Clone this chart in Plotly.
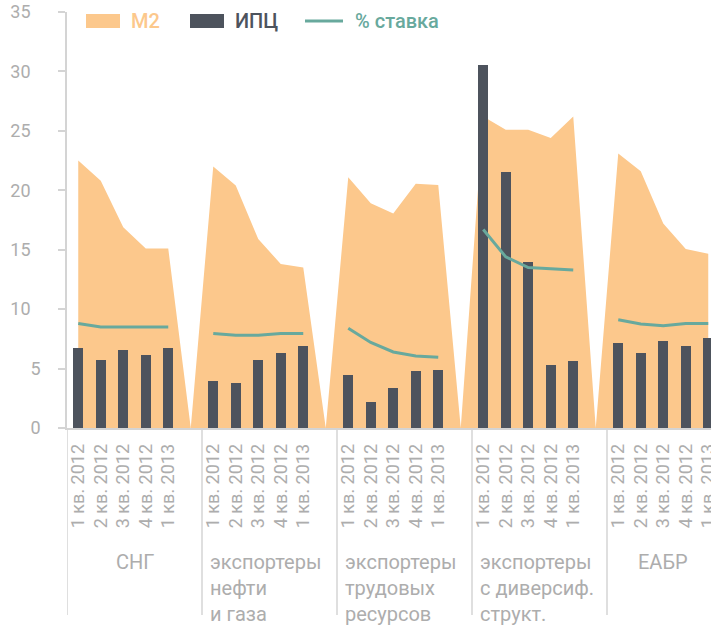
import plotly.graph_objects as go

# ---------------- data ----------------
groups = ["СНГ", "экспортеры<br>нефти<br>и газа", "экспортеры<br>трудовых<br>ресурсов",
          "экспортеры<br>с диверсиф.<br>структ.", "ЕАБР"]
quarters = ["1 кв. 2012", "2 кв. 2012", "3 кв. 2012", "4 кв. 2012", "1 кв. 2013"]

m2_cis = [22.5, 20.8, 16.9, 15.1, 15.1]
m2_oil = [22.0, 20.4, 15.9, 13.8, 13.5]
m2_labor = [21.1, 18.9, 18.05, 20.55, 20.45]
m2_div = [26.2, 25.1, 25.1, 24.4, 26.2]
m2_eabr = [23.1, 21.6, 17.2, 15.05, 14.65]

cpi_cis = [6.75, 5.75, 6.55, 6.15, 6.75]
cpi_oil = [3.95, 3.8, 5.75, 6.3, 6.9]
cpi_labor = [4.45, 2.15, 3.35, 4.8, 4.85]
cpi_div = [30.5, 21.55, 14.0, 5.3, 5.65]
cpi_eabr = [7.15, 6.3, 7.35, 6.9, 7.6]

rate_cis = [8.8, 8.5, 8.5, 8.5, 8.5]
rate_oil = [7.95, 7.8, 7.8, 7.95, 7.95]
rate_labor = [8.4, 7.2, 6.4, 6.05, 5.95]
rate_div = [16.7, 14.4, 13.5, 13.4, 13.3]
rate_eabr = [9.1, 8.75, 8.6, 8.8, 8.8]

yticks = [0, 5, 10, 15, 20, 25, 30, 35]

m2_groups = [m2_cis, m2_oil, m2_labor, m2_div, m2_eabr]
cpi_groups = [cpi_cis, cpi_oil, cpi_labor, cpi_div, cpi_eabr]
rate_groups = [rate_cis, rate_oil, rate_labor, rate_div, rate_eabr]

# ---------------- styles ----------------
C_M2 = "#FCC88C"
C_CPI = "#4D535D"
C_RATE = "#68A99D"
C_AX = "#D4D4D4"
C_TXT = "#ADADAD"
FONT = "Roboto"

GAP = 6  # slots per group (5 quarters + 1 blank)
x_area, y_area, x_pts, y_cpi, y_rate, tickvals, ticktext = [], [], [], [], [], [], []
for g in range(len(groups)):
    for q in range(len(quarters)):
        x = g * GAP + q
        x_area.append(x); y_area.append(m2_groups[g][q])
        x_pts.append(x); y_cpi.append(cpi_groups[g][q]); y_rate.append(rate_groups[g][q])
        tickvals.append(x); ticktext.append(quarters[q])
    if g < len(groups) - 1:
        x = g * GAP + len(quarters)
        x_area.append(x); y_area.append(0)
        x_pts.append(x); y_cpi.append(None); y_rate.append(None)

fig = go.Figure()
fig.add_trace(go.Scatter(x=x_area, y=y_area, fill="tozeroy", mode="lines",
                         line=dict(width=0, color=C_M2), fillcolor=C_M2,
                         name="M2", showlegend=False, xaxis="x", yaxis="y"))
fig.add_trace(go.Bar(x=x_pts, y=y_cpi, width=0.45, marker=dict(color=C_CPI, line=dict(width=0)),
                     name="ИПЦ", showlegend=False, xaxis="x2", yaxis="y2"))
fig.add_trace(go.Scatter(x=x_pts, y=y_rate, mode="lines", line=dict(color=C_RATE, width=3),
                         connectgaps=False, name="% ставка", showlegend=False,
                         xaxis="x2", yaxis="y2"))

# pixel geometry of the plot area
W, H = 711, 625
L, R, T, B = 67, 711, 12, 428
XR = [-0.5, -0.5 + (R - L) / 22.5]


def px(x):
    return (x - L) / (R - L)


def py(y):
    return (B - y) / (B - T)


shapes = []
shapes.append(dict(type="rect", xref="paper", yref="paper", x0=px(86), x1=px(120), y0=py(28), y1=py(14),
                   fillcolor=C_M2, line=dict(width=0)))
shapes.append(dict(type="rect", xref="paper", yref="paper", x0=px(190), x1=px(224), y0=py(28), y1=py(14),
                   fillcolor=C_CPI, line=dict(width=0)))
shapes.append(dict(type="line", xref="paper", yref="paper", x0=px(305), x1=px(343), y0=py(21), y1=py(21),
                   line=dict(color=C_RATE, width=3)))
for g in range(len(groups)):
    xs = g * GAP - 0.5
    shapes.append(dict(type="line", xref="x", yref="paper", x0=xs, x1=xs, y0=0, y1=py(615),
                       line=dict(color=C_AX, width=1.5)))

annotations = []
for txt, x0, col in [("M2", 129, C_M2), ("ИПЦ", 233, C_CPI), ("% ставка", 353, C_RATE)]:
    annotations.append(dict(text=txt, xref="paper", yref="paper", x=px(x0), y=py(21),
                            xanchor="left", yanchor="middle", showarrow=False,
                            font=dict(family=FONT, size=20, color=col, weight=500)))
for g, name in enumerate(groups):
    if "<br>" in name:
        annotations.append(dict(text=name, xref="x", yref="paper", x=g * GAP - 0.5 + 0.25, y=py(548),
                                xanchor="left", yanchor="top", align="left", showarrow=False,
                                font=dict(family=FONT, size=20, color=C_TXT)))
    else:
        annotations.append(dict(text=name, xref="x", yref="paper", x=g * GAP + 2.0 + (0.5 if g == 0 else 0),
                                y=py(562), xanchor="center", yanchor="middle", showarrow=False,
                                font=dict(family=FONT, size=20, color=C_TXT)))

fig.update_layout(
    width=W, height=H,
    margin=dict(l=L, r=W - R, t=T, b=H - B, pad=0, autoexpand=False),
    paper_bgcolor="white", plot_bgcolor="white", showlegend=False,
    bargap=0, font=dict(family=FONT, color=C_TXT),
    xaxis=dict(range=XR, tickvals=tickvals, ticktext=ticktext, tickangle=-90,
               tickfont=dict(family=FONT, size=18, color=C_TXT), showgrid=False, zeroline=False,
               showline=True, linecolor=C_AX, linewidth=1.5, ticks="", ticklabelstandoff=7,
               ticklabeloverflow="allow", automargin=False),
    yaxis=dict(range=[0, 35], tickvals=yticks,
               ticktext=[(str(v) + "\u2007") if v >= 10 else str(v) for v in yticks],
               tickfont=dict(family=FONT, size=18, color=C_TXT), showgrid=False, zeroline=False,
               showline=True, linecolor=C_AX, linewidth=1.5, ticks="outside", ticklen=7,
               tickcolor=C_AX, tickwidth=1.5, ticklabelstandoff=14, ticklabeloverflow="allow",
               automargin=False),
    xaxis2=dict(range=XR, overlaying="x", visible=False),
    yaxis2=dict(range=[0, 35], overlaying="y", visible=False),
    shapes=shapes, annotations=annotations,
)

fig.write_html("out.html", config={"displayModeBar": False},
               post_script="document.body.style.margin='0';document.body.style.overflow='hidden';")
